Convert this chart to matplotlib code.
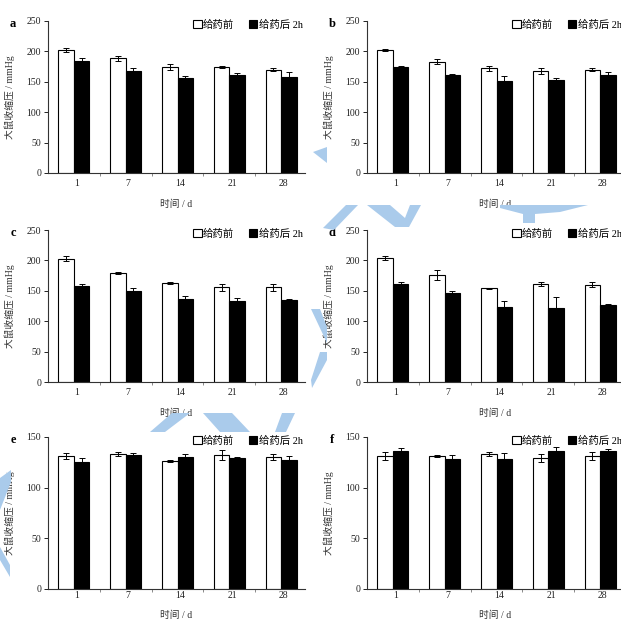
import matplotlib
matplotlib.use("Agg")
import matplotlib.pyplot as plt
from matplotlib.patches import Polygon, Patch
import numpy as np

plt.rcParams['font.family'] = ['Liberation Serif', 'Noto Sans CJK SC']

days = ["1", "7", "14", "21", "28"]
legend_labels = ["给药前", "给药后 2h"]
panel_names = ["a", "b", "c", "d", "e", "f"]
ylabel = "大鼠收缩压 / mmHg"
xlabel = "时间 / d"

a_before = [202, 189, 175, 174, 170]
a_before_err = [3, 4, 5, 2, 3]
a_after = [184, 168, 157, 162, 158]
a_after_err = [5, 5, 2, 3, 8]

b_before = [202, 183, 172, 168, 170]
b_before_err = [2, 4, 4, 5, 3]
b_after = [174, 162, 152, 153, 161]
b_after_err = [2, 1, 7, 3, 5]

c_before = [203, 179, 163, 156, 156]
c_before_err = [4, 2, 2, 6, 6]
c_after = [158, 149, 136, 133, 135]
c_after_err = [3, 6, 6, 5, 1]

d_before = [204, 176, 154, 161, 160]
d_before_err = [3, 8, 1, 3, 4]
d_after = [162, 146, 123, 121, 126]
d_after_err = [3, 4, 10, 18, 3]

e_before = [131, 133, 126, 132, 130]
e_before_err = [3, 2, 1, 5, 3]
e_after = [125, 132, 130, 129, 127]
e_after_err = [4, 2, 3, 1, 4]

f_before = [131, 131, 133, 129, 131]
f_before_err = [4, 1, 2, 4, 4]
f_after = [136, 128, 128, 136, 136]
f_after_err = [3, 4, 6, 4, 2]

ymax_top = [250, 250, 250, 250, 150, 150]

panels = [
    (a_before, a_before_err, a_after, a_after_err),
    (b_before, b_before_err, b_after, b_after_err),
    (c_before, c_before_err, c_after, c_after_err),
    (d_before, d_before_err, d_after, d_after_err),
    (e_before, e_before_err, e_after, e_after_err),
    (f_before, f_before_err, f_after, f_after_err),
]

W, H = 621, 619
fig = plt.figure(figsize=(W / 100, H / 100), dpi=100)

# watermark-like light blue strokes (decoration)
wm_color = '#aacbeb'
wm_shapes = [
    [(313, 152), (327, 147), (327, 163)],
    [(323, 228), (346, 205), (358, 205), (334, 230)],
    [(367, 205), (390, 205), (405, 218), (410, 205), (421, 205), (409, 227), (395, 227)],
    [(500, 205), (588, 205), (560, 212), (535, 214), (535, 223), (523, 223), (523, 214), (500, 208)],
    [(311, 309), (320, 309), (327, 327), (327, 343)],
    [(320, 352), (327, 352), (327, 360), (312, 388), (311, 380)],
    [(172, 413), (190, 413), (165, 432), (150, 432)],
    [(203, 413), (232, 413), (250, 432), (220, 432)],
    [(282, 413), (295, 413), (286, 432), (275, 432)],
    [(0, 478), (11, 470), (11, 482), (0, 510)],
    [(0, 547), (10, 565), (10, 577), (0, 560)],
]
for pts in wm_shapes:
    fig.patches.append(Polygon([(x / W, 1 - y / H) for x, y in pts], closed=True,
                               transform=fig.transFigure, facecolor=wm_color,
                               edgecolor='none', zorder=0))

ax_w = 257 / W
ax_h = 152 / H
lefts = [48 / W, 367 / W]
bottoms = [1 - 173 / H, 1 - 382 / H, 1 - 589 / H]
tick_pads = [4, 4, 1.5]
xlabel_offsets = [27, 27, 22]

x = np.arange(len(days))
bw = 0.3
axis_col = '#333333'

for k, (bef, bef_err, aft, aft_err) in enumerate(panels):
    r, c = divmod(k, 2)
    ax = fig.add_axes([lefts[c], bottoms[r], ax_w, ax_h])
    ax.bar(x - bw / 2, bef, bw, color='white', edgecolor='black', linewidth=0.8,
           yerr=bef_err, error_kw=dict(ecolor='black', elinewidth=0.7, capsize=2.5, capthick=0.7), zorder=2)
    ax.bar(x + bw / 2, aft, bw, color='black', edgecolor='black', linewidth=0.8,
           yerr=aft_err, error_kw=dict(ecolor='black', elinewidth=0.7, capsize=2.5, capthick=0.7), zorder=2)
    ax.set_xlim(-0.5, 4.46)
    ax.set_ylim(0, ymax_top[k])
    ax.set_yticks(np.arange(0, ymax_top[k] + 1, 50))
    ax.set_xticks(x + 0.05)
    ax.set_xticklabels(days)
    ax.set_xticks(x[:-1] + 0.5, minor=True)
    ax.tick_params(axis='x', which='major', length=0, labelsize=7, colors='#222222', pad=tick_pads[r])
    ax.tick_params(axis='x', which='minor', length=2.5, width=0.6, color='#777777')
    ax.tick_params(axis='y', which='major', length=3, width=0.7, labelsize=7,
                   colors='#222222', direction='out', pad=2)
    for s in ['top', 'right']:
        ax.spines[s].set_visible(False)
    for s in ['left', 'bottom']:
        ax.spines[s].set_color(axis_col)
        ax.spines[s].set_linewidth(0.8)
    ax.set_ylabel(ylabel, fontsize=7, color='#333333')
    ax.yaxis.set_label_coords(-33 / 257, 0.5)
    ax.set_xlabel(xlabel, fontsize=7, color='#333333')
    ax.xaxis.set_label_coords(0.5, -xlabel_offsets[r] / 152)
    ax.text(-35 / 257, 0.98, panel_names[k], transform=ax.transAxes, fontsize=9,
            fontweight='bold', ha='center', va='center', family='Liberation Serif')
    handles = [Patch(facecolor='white', edgecolor='black', linewidth=0.8),
               Patch(facecolor='black', edgecolor='black', linewidth=0.8)]
    ax.legend(handles, legend_labels, loc='center left', bbox_to_anchor=(0.565, 0.975),
              ncol=2, frameon=False, fontsize=7.5, handlelength=0.8, handleheight=0.8,
              handletextpad=0.15, columnspacing=1.4, borderpad=0, borderaxespad=0)

fig.savefig("out.png", dpi=100)
